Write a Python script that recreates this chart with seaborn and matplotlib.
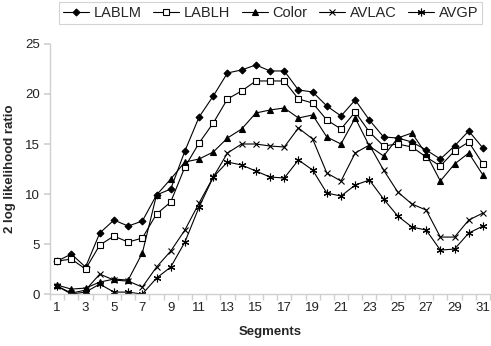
import numpy as np
import pandas as pd
import matplotlib
matplotlib.use("Agg")
import matplotlib.pyplot as plt
import seaborn as sns

sns.set_theme(style="white")
plt.rcParams["font.family"] = ["Liberation Sans", "DejaVu Sans"]

# Data
segments = list(range(1, 32))
lablm = [3.3, 4.0, 2.7, 6.1, 7.4, 6.8, 7.3, 9.9, 10.5, 14.3, 17.7, 19.8, 22.1, 22.4, 22.9, 22.3,
         22.3, 20.4, 20.2, 18.8, 17.8, 19.4, 17.4, 15.7, 15.6, 15.2, 14.4, 13.5, 14.8, 16.3, 14.6]
lablh = [3.3, 3.5, 2.5, 4.9, 5.8, 5.2, 5.6, 8.0, 9.2, 12.7, 15.1, 17.1, 19.5, 20.3, 21.3, 21.3,
         21.3, 19.5, 19.1, 17.4, 16.5, 18.2, 16.2, 14.8, 15.0, 14.7, 13.7, 12.8, 14.3, 15.2, 13.0]
color = [0.9, 0.5, 0.6, 1.2, 1.5, 1.4, 4.1, 9.9, 11.5, 13.2, 13.5, 14.2, 15.6, 16.5, 18.1, 18.4,
         18.6, 17.6, 17.9, 15.7, 15.0, 17.6, 14.8, 13.8, 15.6, 16.1, 14.0, 11.3, 13.0, 14.1, 11.9]
avlac = [0.8, 0.1, 0.4, 2.0, 1.4, 1.3, 0.7, 2.7, 4.3, 6.4, 9.1, 11.7, 14.1, 15.0, 15.0, 14.8,
         14.7, 16.6, 15.5, 12.1, 11.3, 14.1, 14.9, 12.4, 10.2, 9.0, 8.4, 5.7, 5.7, 7.4, 8.1]
avgp = [0.8, 0.0, 0.2, 1.0, 0.2, 0.2, 0.0, 1.6, 2.7, 5.2, 8.7, 11.7, 13.2, 12.9, 12.3, 11.7,
        11.6, 13.4, 12.4, 10.1, 9.8, 10.9, 11.4, 9.5, 7.8, 6.7, 6.4, 4.4, 4.5, 6.1, 6.8]

series = {"LABLM": lablm, "LABLH": lablh, "Color": color, "AVLAC": avlac, "AVGP": avgp}
df = pd.DataFrame({"Segment": segments, **series})

styles = {
    "LABLM": dict(marker="D", markersize=3.5, markerfacecolor="black"),
    "LABLH": dict(marker="s", markersize=4.5, markerfacecolor="white"),
    "Color": dict(marker="^", markersize=4.5, markerfacecolor="black"),
    "AVLAC": dict(marker="x", markersize=5, markerfacecolor="black"),
    "AVGP": dict(marker=(6, 2, 0), markersize=5.5, markerfacecolor="black"),
}

fig = plt.figure(figsize=(4.91, 3.46), dpi=100)
ax = fig.add_axes([0.102, 0.150, 0.896, 0.723])

for name in series:
    sns.lineplot(data=df, x="Segment", y=name, ax=ax, color="black", linewidth=0.8,
                 markeredgecolor="black", markeredgewidth=0.8, label=name, **styles[name])

ax.set_xlim(0.5, 31.5)
ax.set_ylim(0, 25)
ax.set_xticks(range(1, 32, 2))
ax.set_xticks(np.arange(0.5, 32, 1), minor=True)
ax.set_yticks(range(0, 26, 5))
ax.tick_params(axis="x", which="major", length=0, labelsize=9.5, pad=6, colors="#222222")
ax.tick_params(axis="x", which="minor", length=4, color="#d0d0d0", direction="out", bottom=True)
ax.tick_params(axis="y", length=4, color="#d0d0d0", labelsize=9.5, colors="#222222", left=True)
for s in ["top", "right"]:
    ax.spines[s].set_visible(False)
for s in ["left", "bottom"]:
    ax.spines[s].set_color("#d0d0d0")
    ax.spines[s].set_linewidth(1)

ax.set_xlabel("Segments", fontsize=9.5, fontweight="bold", labelpad=8)
ax.set_ylabel("2 log likelihood ratio", fontsize=9.5, fontweight="bold", labelpad=6)

leg = ax.legend(loc="center", bbox_to_anchor=(0.501, 1.124), ncol=5, frameon=True,
                fontsize=10.5, handlelength=1.8, handletextpad=0.3, columnspacing=0.8,
                borderpad=0.25, fancybox=False, borderaxespad=0)
leg.get_frame().set_edgecolor("#c8c8c8")
leg.get_frame().set_linewidth(0.8)

fig.savefig("out.png", dpi=100)
